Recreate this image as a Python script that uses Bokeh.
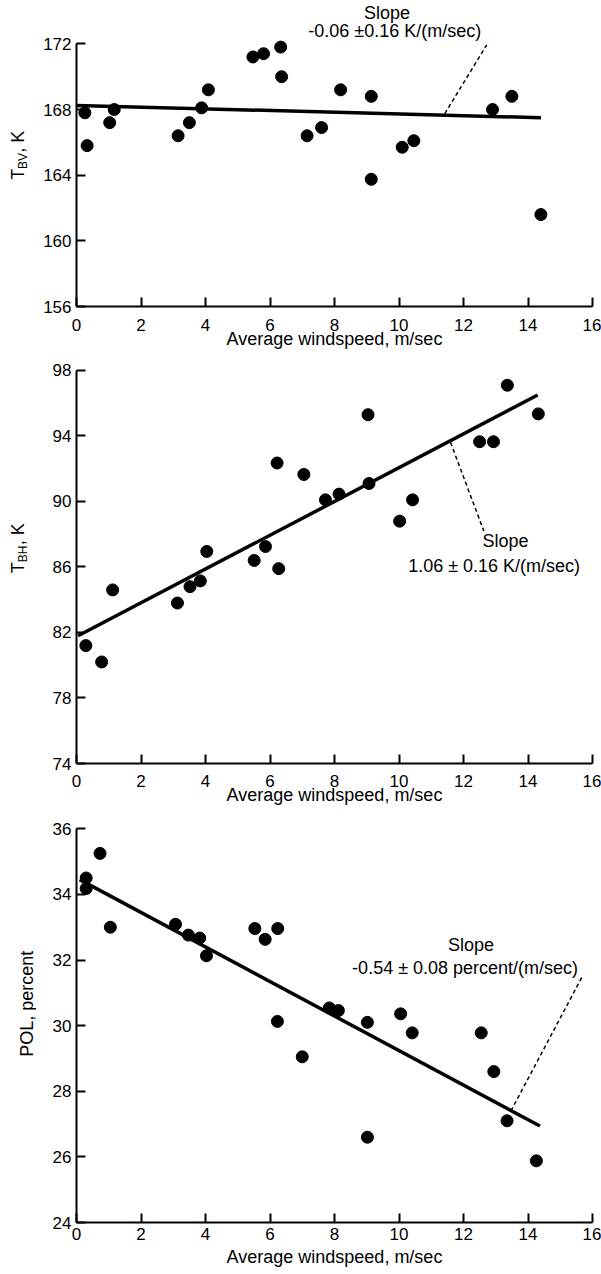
import math
from bokeh.plotting import figure
from bokeh.models import Range1d, FixedTicker, Label
from bokeh.layouts import column, row
from bokeh.core.properties import value
from bokeh.embed import file_html
from bokeh.resources import INLINE

FONT = "Liberation Sans"

# ---------------- data ----------------
x_ticks = [0, 2, 4, 6, 8, 10, 12, 14, 16]

# Panel 1: T_BV vs windspeed
wind_tbv = [0.26, 0.33, 1.03, 1.17, 3.15, 3.50, 3.88, 4.09, 5.47, 5.80, 6.33,
            6.36, 7.15, 7.60, 8.19, 9.14, 9.14, 10.10, 10.46, 12.90, 13.50, 14.40]
tbv = [167.8, 165.8, 167.2, 168.0, 166.4, 167.2, 168.1, 169.2, 171.2, 171.4, 171.8,
       170.0, 166.4, 166.9, 169.2, 168.8, 163.75, 165.7, 166.1, 168.0, 168.8, 161.6]
fit_tbv_x = [0.0, 14.4]
fit_tbv_y = [168.25, 167.5]
tbv_ticks = [156, 160, 164, 168, 172]
tbv_note = ["Slope", "-0.06 \u00b10.16 K/(m/sec)"]
tbv_label = ["T", "BV", ", K"]

# Panel 2: T_BH vs windspeed
wind_tbh = [0.29, 0.78, 1.12, 3.13, 3.52, 3.84, 4.04, 5.51, 5.86, 6.22, 6.27,
            7.05, 7.72, 8.14, 9.04, 9.07, 10.02, 10.42, 12.50, 12.93, 13.36, 14.32]
tbh = [81.2, 80.2, 84.6, 83.8, 84.8, 85.15, 86.95, 86.4, 87.25, 92.35, 85.9,
       91.65, 90.1, 90.45, 95.3, 91.1, 88.8, 90.1, 93.65, 93.65, 97.1, 95.35]
fit_tbh_x = [0.05, 14.3]
fit_tbh_y = [81.8, 96.5]
tbh_ticks = [74, 78, 82, 86, 90, 94, 98]
tbh_note = ["Slope", "1.06 \u00b1 0.16 K/(m/sec)"]
tbh_label = ["T", "BH", ", K"]

# Panel 3: POL vs windspeed
wind_pol = [0.73, 0.30, 0.30, 1.05, 3.07, 3.47, 3.82, 4.03, 5.53, 5.85, 6.24, 6.23,
            7.00, 7.84, 8.12, 9.02, 9.02, 10.05, 10.41, 12.55, 12.94, 13.35, 14.26]
pol = [35.25, 34.5, 34.18, 33.0, 33.09, 32.76, 32.67, 32.13, 32.96, 32.63, 32.96, 30.13,
       29.05, 30.54, 30.46, 30.1, 26.6, 30.36, 29.78, 29.78, 28.6, 27.1, 25.88]
fit_pol_x = [0.1, 14.37]
fit_pol_y = [34.45, 26.94]
pol_ticks = [24, 26, 28, 30, 32, 34, 36]
pol_note = ["Slope", "-0.54 \u00b1 0.08 percent/(m/sec)"]
pol_label = ["POL, percent"]

x_title = "Average windspeed, m/sec"

# ---------------- layout helpers ----------------
LAB_W = 36          # width of the strip that carries the rotated y title
MAIN_W = 601 - LAB_W
BORDER_L = 40       # frame starts at 76 px from the window's left edge


def make_panel(h, ylo, yhi, ytop_tick, yticks, bottom, standoff, title_standoff):
    p = figure(width=MAIN_W, height=h, x_range=Range1d(0, 16), y_range=Range1d(ylo, yhi),
               output_backend="svg", toolbar_location=None,
               min_border_left=BORDER_L, min_border_right=9, min_border_top=0,
               min_border_bottom=bottom)
    p.outline_line_color = None
    p.grid.visible = False
    p.xaxis.ticker = FixedTicker(ticks=x_ticks)
    p.xaxis.bounds = (0, 16)
    p.yaxis.ticker = FixedTicker(ticks=yticks)
    p.yaxis.bounds = (ylo, ytop_tick)
    for ax in p.axis:
        ax.axis_line_width = 2
        ax.axis_line_color = "black"
        ax.major_tick_line_width = 2
        ax.major_tick_line_color = "black"
        ax.major_tick_in = 9
        ax.major_tick_out = 0
        ax.minor_tick_line_color = None
        ax.major_label_text_font = FONT
        ax.major_label_text_font_size = "17px"
        ax.major_label_text_color = "black"
    p.xaxis.major_label_standoff = standoff
    p.yaxis.major_label_standoff = 5
    p.xaxis.axis_label = x_title
    p.xaxis.axis_label_text_font = FONT
    p.xaxis.axis_label_text_font_size = "18px"
    p.xaxis.axis_label_text_font_style = "normal"
    p.xaxis.axis_label_text_color = "black"
    p.xaxis.axis_label_standoff = title_standoff
    return p


def label_strip(h, texts, xs, ys, sizes):
    f = figure(width=LAB_W, height=h, x_range=Range1d(0, LAB_W), y_range=Range1d(h, 0),
               output_backend="svg", toolbar_location=None,
               x_axis_type=None, y_axis_type=None,
               min_border_left=0, min_border_right=0, min_border_top=0, min_border_bottom=0)
    f.outline_line_color = None
    f.grid.visible = False
    for t, x, y, s in zip(texts, xs, ys, sizes):
        f.text(x=[x], y=[y], text=[t], angle=math.pi / 2, text_align="left",
               text_baseline="middle", text_font=value(FONT), text_font_size=s,
               text_color="black")
    return f


def note(p, x, y, text):
    p.add_layout(Label(x=x, y=y, text=text, text_font=FONT, text_font_size="18px",
                       text_align="center", text_baseline="middle", text_color="black"))


def draw(p, xs, ys, fx, fy):
    p.line(fx, fy, line_width=3.5, line_color="black")
    p.scatter(xs, ys, size=12, fill_color="black", line_color="black")


# ---------------- panel 1 ----------------
h1 = 355
p1 = make_panel(h1, 156, 156 + 18.64, 172, tbv_ticks, 49, 12, -5)
draw(p1, wind_tbv, tbv, fit_tbv_x, fit_tbv_y)
p1.line([11.42, 12.72], [167.75, 171.94], line_dash="4 3", line_width=1.5, line_color="black")
note(p1, 9.63, 173.88, tbv_note[0])
note(p1, 9.87, 172.76, tbv_note[1])
l1 = label_strip(h1, tbv_label, [17, 22, 17], [208, 195.5, 176.5], ["18px", "12px", "18px"])

# ---------------- panel 2 ----------------
h2 = 460
yhi2 = 98 + 15 / (393.3 / 24)
p2 = make_panel(h2, 74, yhi2, 98, tbh_ticks, h2 - 408, 11, -5)
draw(p2, wind_tbh, tbh, fit_tbh_x, fit_tbh_y)
p2.line([11.6, 12.63], [93.6, 88.2], line_dash="4 3", line_width=1.5, line_color="black")
note(p2, 13.3, 87.58, tbh_note[0])
note(p2, 12.95, 86.04, tbh_note[1])
l2 = label_strip(h2, tbh_label, [17, 22, 17], [245.5, 233, 214], ["18px", "12px", "18px"])

# ---------------- panel 3 ----------------
h3 = 459
yhi3 = 36 + 13.3 / (393.7 / 12)
p3 = make_panel(h3, 24, yhi3, 36, pol_ticks, h3 - 407, 5, 4)
draw(p3, wind_pol, pol, fit_pol_x, fit_pol_y)
p3.line([13.47, 15.7], [27.4, 31.53], line_dash="4 3", line_width=1.5, line_color="black")
note(p3, 12.23, 32.46, pol_note[0])
note(p3, 12.05, 31.75, pol_note[1])
l3 = label_strip(h3, pol_label, [26], [272], ["18px"])

layout = column(row(l1, p1), row(l2, p2), row(l3, p3))
open("out.html", "w").write(file_html(layout, INLINE))
